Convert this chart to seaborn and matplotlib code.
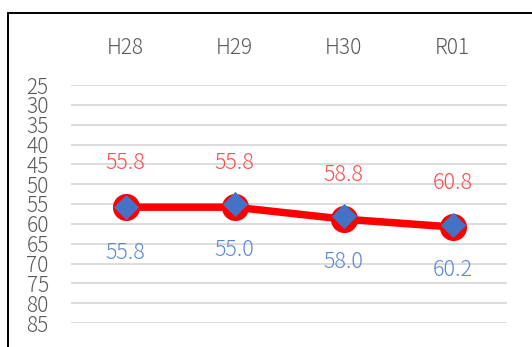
import matplotlib
matplotlib.use("Agg")
import matplotlib.pyplot as plt
from matplotlib.lines import Line2D
import seaborn as sns
import pandas as pd

categories = ["H28", "H29", "H30", "R01"]
red_values = [55.8, 55.8, 58.8, 60.8]
blue_values = [55.8, 55.0, 58.0, 60.2]
y_ticks = [25, 30, 35, 40, 45, 50, 55, 60, 65, 70, 75, 80, 85]

sns.set_theme(style="white")
plt.rcParams["font.family"] = ["Noto Sans CJK JP", "DejaVu Sans"]

df = pd.DataFrame({"pos": range(len(categories)), "cat": categories,
                   "red": red_values, "blue": blue_values})

fig = plt.figure(figsize=(5.32, 3.47), dpi=100)
ax = fig.add_axes([71/532, (347-323)/347, (507-71)/532, (323-85)/347])

sns.lineplot(data=df, x="pos", y="red", ax=ax, color="#FF0000", linewidth=5.4,
             marker="o", markersize=19.5, markeredgewidth=0, zorder=3)
sns.scatterplot(data=df, x="pos", y="blue", ax=ax, color="#4472C4", marker="D",
                s=165, linewidth=0, zorder=4)

for i, (r, b) in enumerate(zip(red_values, blue_values)):
    ax.annotate(f"{r:.1f}", (i, r), xytext=(0, 32), textcoords="offset points",
                ha="center", va="center", color="#FF4B4B", fontsize=15.5,
                fontweight="light")
    ax.annotate(f"{b:.1f}", (i, b), xytext=(0, -33), textcoords="offset points",
                ha="center", va="center", color="#5B87D2", fontsize=15.5,
                fontweight="light")

ax.set_xlim(-0.5, len(categories) - 0.5)
ax.set_ylim(85, 25)
ax.set_yticks(y_ticks)
ax.set_yticklabels([str(t) for t in y_ticks])
ax.set_xticks(range(len(categories)))
ax.set_xticklabels(categories)
ax.xaxis.tick_top()
ax.tick_params(axis="x", length=0, pad=19, labelsize=15, colors="#595959")
ax.tick_params(axis="y", length=0, pad=16, labelsize=15, colors="#595959")
for lab in ax.get_xticklabels() + ax.get_yticklabels():
    lab.set_fontweight("light")
ax.grid(axis="y", color="#D9D9D9", linewidth=1.3)
ax.set_axisbelow(True)
for s in ax.spines.values():
    s.set_visible(False)
ax.set_xlabel("")
ax.set_ylabel("")

fig.add_artist(Line2D([7.5/532, 7.5/532], [0, (347-13)/347], color="black",
                      linewidth=1.4, transform=fig.transFigure))
fig.add_artist(Line2D([7.5/532, 1], [(347-13)/347, (347-13)/347], color="black",
                      linewidth=1.4, transform=fig.transFigure))

fig.savefig("out.png", dpi=100, facecolor="white")
